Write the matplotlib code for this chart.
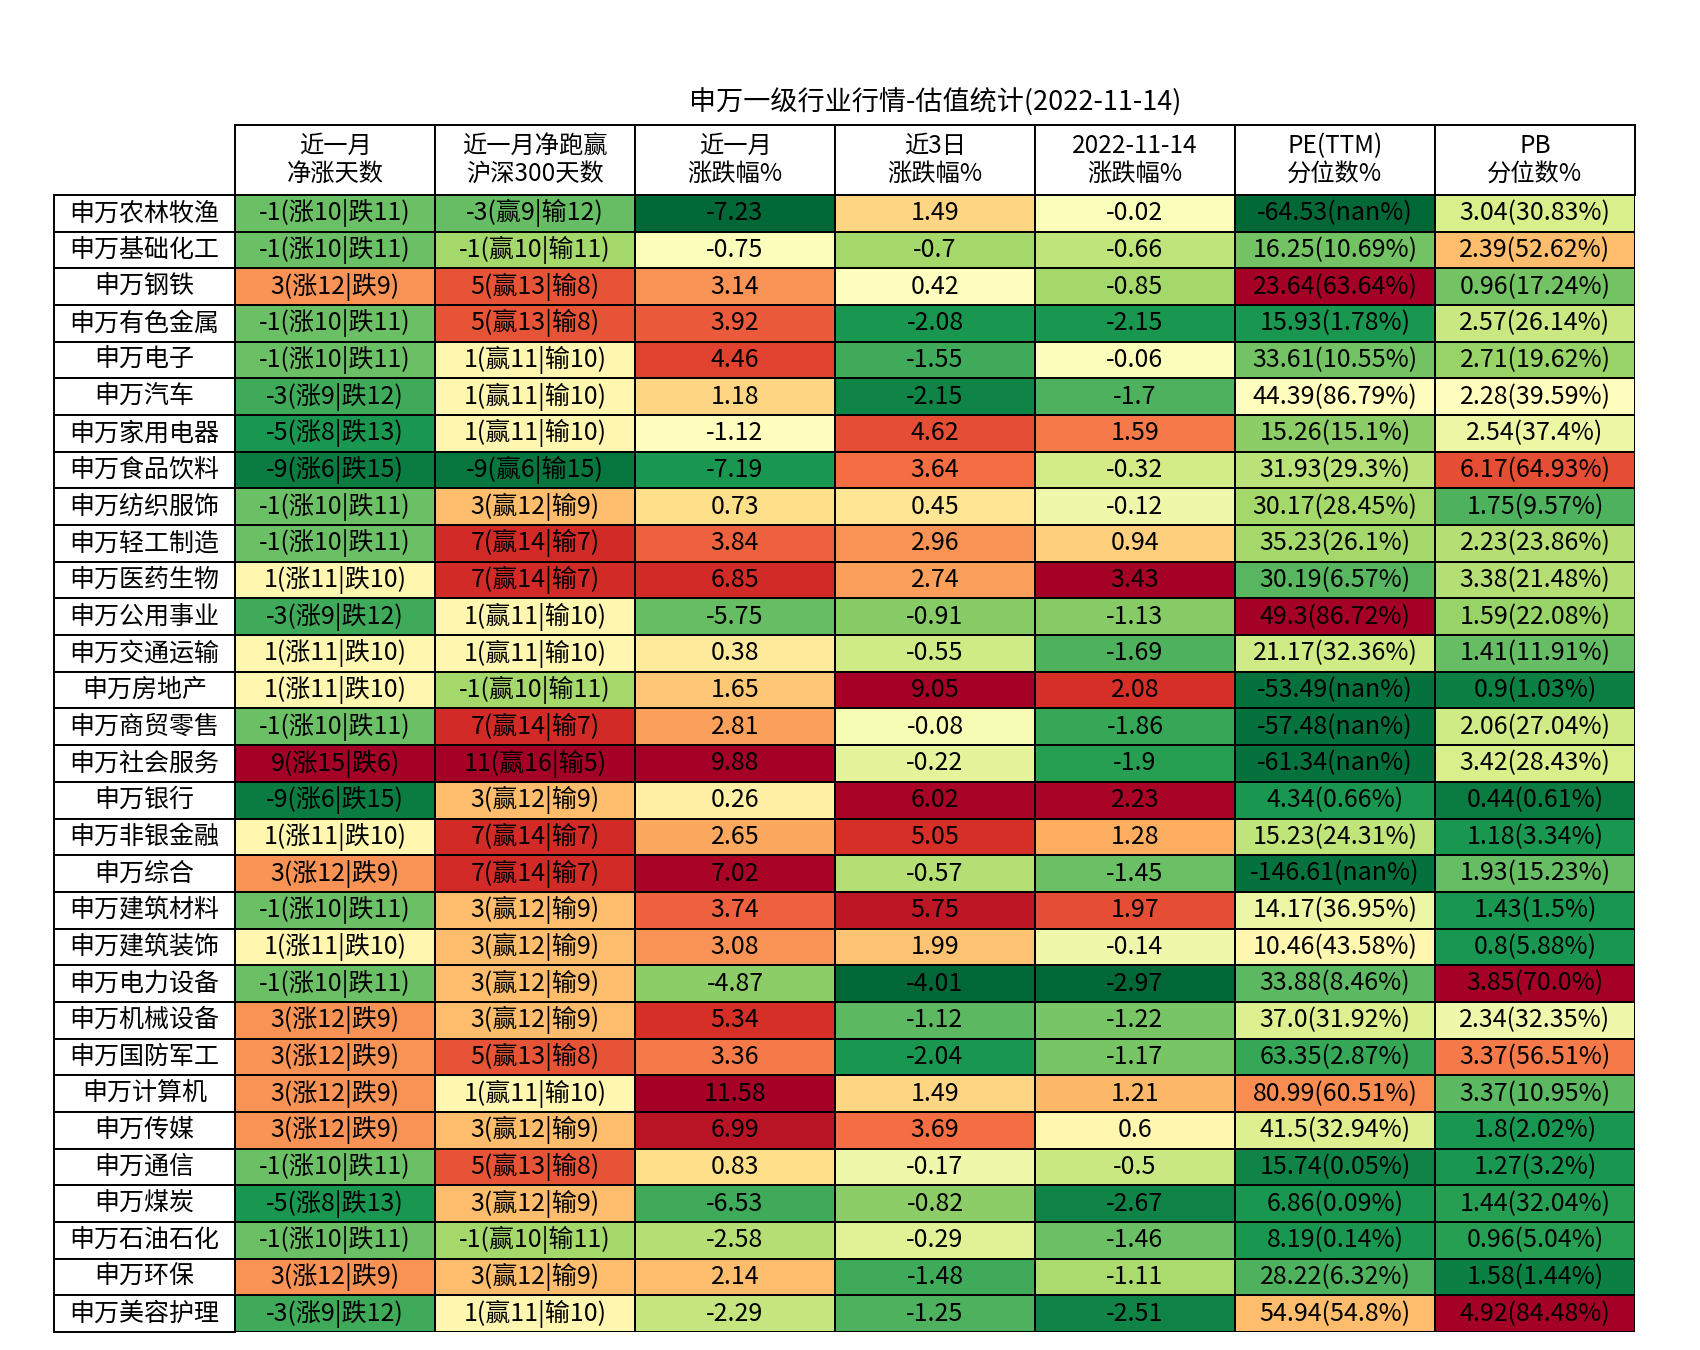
import numpy as np
import matplotlib
matplotlib.use("Agg")
import matplotlib.pyplot as plt
from matplotlib.patches import Rectangle

plt.rcParams['font.family'] = ['Noto Sans CJK SC', 'DejaVu Sans']

title = "申万一级行业行情-估值统计(2022-11-14)"
headers = ["近一月\n净涨天数", "近一月净跑赢\n沪深300天数", "近一月\n涨跌幅%", "近3日\n涨跌幅%",
           "2022-11-14\n涨跌幅%", "PE(TTM)\n分位数%", "PB\n分位数%"]

industries = ["申万农林牧渔", "申万基础化工", "申万钢铁", "申万有色金属", "申万电子", "申万汽车",
              "申万家用电器", "申万食品饮料", "申万纺织服饰", "申万轻工制造", "申万医药生物",
              "申万公用事业", "申万交通运输", "申万房地产", "申万商贸零售", "申万社会服务",
              "申万银行", "申万非银金融", "申万综合", "申万建筑材料", "申万建筑装饰",
              "申万电力设备", "申万机械设备", "申万国防军工", "申万计算机", "申万传媒",
              "申万通信", "申万煤炭", "申万石油石化", "申万环保", "申万美容护理"]

up_days = [10, 10, 12, 10, 10, 9, 8, 6, 10, 10, 11, 9, 11, 11, 10, 15, 6, 11, 12, 10, 11, 10, 12, 12, 12, 12, 10, 8, 10, 12, 9]
down_days = [11, 11, 9, 11, 11, 12, 13, 15, 11, 11, 10, 12, 10, 10, 11, 6, 15, 10, 9, 11, 10, 11, 9, 9, 9, 9, 11, 13, 11, 9, 12]
win_days = [9, 10, 13, 13, 11, 11, 11, 6, 12, 14, 14, 11, 11, 10, 14, 16, 12, 14, 14, 12, 12, 12, 12, 13, 11, 12, 13, 12, 10, 12, 11]
lose_days = [12, 11, 8, 8, 10, 10, 10, 15, 9, 7, 7, 10, 10, 11, 7, 5, 9, 7, 7, 9, 9, 9, 9, 8, 10, 9, 8, 9, 11, 9, 10]

chg_month = [-7.23, -0.75, 3.14, 3.92, 4.46, 1.18, -1.12, -7.19, 0.73, 3.84, 6.85, -5.75, 0.38, 1.65, 2.81, 9.88,
             0.26, 2.65, 7.02, 3.74, 3.08, -4.87, 5.34, 3.36, 11.58, 6.99, 0.83, -6.53, -2.58, 2.14, -2.29]
chg_3d = [1.49, -0.7, 0.42, -2.08, -1.55, -2.15, 4.62, 3.64, 0.45, 2.96, 2.74, -0.91, -0.55, 9.05, -0.08, -0.22,
          6.02, 5.05, -0.57, 5.75, 1.99, -4.01, -1.12, -2.04, 1.49, 3.69, -0.17, -0.82, -0.29, -1.48, -1.25]
chg_day = [-0.02, -0.66, -0.85, -2.15, -0.06, -1.7, 1.59, -0.32, -0.12, 0.94, 3.43, -1.13, -1.69, 2.08, -1.86, -1.9,
           2.23, 1.28, -1.45, 1.97, -0.14, -2.97, -1.22, -1.17, 1.21, 0.6, -0.5, -2.67, -1.46, -1.11, -2.51]
nan = float('nan')
pe_ttm = [-64.53, 16.25, 23.64, 15.93, 33.61, 44.39, 15.26, 31.93, 30.17, 35.23, 30.19, 49.3, 21.17, -53.49, -57.48, -61.34,
          4.34, 15.23, -146.61, 14.17, 10.46, 33.88, 37.0, 63.35, 80.99, 41.5, 15.74, 6.86, 8.19, 28.22, 54.94]
pe_pct = [nan, 10.69, 63.64, 1.78, 10.55, 86.79, 15.1, 29.3, 28.45, 26.1, 6.57, 86.72, 32.36, nan, nan, nan,
          0.66, 24.31, nan, 36.95, 43.58, 8.46, 31.92, 2.87, 60.51, 32.94, 0.05, 0.09, 0.14, 6.32, 54.8]
pb = [3.04, 2.39, 0.96, 2.57, 2.71, 2.28, 2.54, 6.17, 1.75, 2.23, 3.38, 1.59, 1.41, 0.9, 2.06, 3.42,
      0.44, 1.18, 1.93, 1.43, 0.8, 3.85, 2.34, 3.37, 3.37, 1.8, 1.27, 1.44, 0.96, 1.58, 4.92]
pb_pct = [30.83, 52.62, 17.24, 26.14, 19.62, 39.59, 37.4, 64.93, 9.57, 23.86, 21.48, 22.08, 11.91, 1.03, 27.04, 28.43,
          0.61, 3.34, 15.23, 1.5, 5.88, 70.0, 32.35, 56.51, 10.95, 2.02, 3.2, 32.04, 5.04, 1.44, 84.48]

# colour level of every cell (0 = deepest green, 1 = deepest red)
heat_updown = [0.21, 0.21, 0.74, 0.21, 0.21, 0.15, 0.1, 0.04, 0.21, 0.21, 0.53, 0.15, 0.53, 0.53, 0.21, 1.0,
               0.04, 0.53, 0.74, 0.21, 0.53, 0.21, 0.74, 0.74, 0.74, 0.74, 0.21, 0.1, 0.21, 0.74, 0.15]
heat_winlose = [0.2, 0.3, 0.84, 0.84, 0.53, 0.53, 0.53, 0.03, 0.67, 0.91, 0.91, 0.53, 0.53, 0.3, 0.91, 1.0,
                0.67, 0.91, 0.91, 0.67, 0.67, 0.67, 0.67, 0.84, 0.53, 0.67, 0.84, 0.67, 0.3, 0.67, 0.53]
heat_month = [0.0, 0.49, 0.74, 0.83, 0.87, 0.62, 0.5, 0.1, 0.6, 0.82, 0.91, 0.2, 0.57, 0.65, 0.72, 1.0,
              0.55, 0.71, 0.99, 0.82, 0.74, 0.26, 0.9, 0.78, 1.0, 0.96, 0.6, 0.15, 0.33, 0.67, 0.36]
heat_3d = [0.62, 0.3, 0.5, 0.1, 0.15, 0.06, 0.85, 0.8, 0.58, 0.74, 0.72, 0.25, 0.38, 1.0, 0.48, 0.43,
           0.99, 0.9, 0.33, 0.95, 0.66, 0.0, 0.19, 0.1, 0.62, 0.8, 0.46, 0.26, 0.42, 0.15, 0.17]
heat_day = [0.49, 0.35, 0.3, 0.1, 0.49, 0.17, 0.78, 0.39, 0.46, 0.63, 1.0, 0.25, 0.17, 0.9, 0.14, 0.12,
            0.99, 0.7, 0.21, 0.85, 0.46, 0.0, 0.23, 0.23, 0.68, 0.53, 0.37, 0.06, 0.21, 0.31, 0.06]
heat_pe = [0.0, 0.22, 1.0, 0.1, 0.22, 0.5, 0.26, 0.34, 0.3, 0.3, 0.18, 1.0, 0.38, 0.02, 0.02, 0.02,
           0.1, 0.35, 0.02, 0.45, 0.53, 0.19, 0.41, 0.14, 0.75, 0.41, 0.06, 0.1, 0.1, 0.17, 0.67]
heat_pb = [0.4, 0.67, 0.22, 0.37, 0.28, 0.5, 0.45, 0.85, 0.17, 0.33, 0.33, 0.28, 0.2, 0.05, 0.38, 0.4,
           0.04, 0.1, 0.2, 0.1, 0.1, 1.0, 0.46, 0.78, 0.19, 0.1, 0.1, 0.12, 0.12, 0.05, 1.0]

heat = np.column_stack([heat_updown, heat_winlose, heat_month, heat_3d, heat_day, heat_pe, heat_pb])

# cell texts
cells = []
for i in range(len(industries)):
    row = [
        f"{up_days[i] - down_days[i]}(涨{up_days[i]}|跌{down_days[i]})",
        f"{win_days[i] - lose_days[i]}(赢{win_days[i]}|输{lose_days[i]})",
        f"{chg_month[i]}",
        f"{chg_3d[i]}",
        f"{chg_day[i]}",
        f"{pe_ttm[i]}({pe_pct[i]}%)",
        f"{pb[i]}({pb_pct[i]}%)",
    ]
    cells.append(row)

nrows, ncols = heat.shape

fig = plt.figure(figsize=(17, 13.5), dpi=100)
# axes covers only the coloured cells; header and labels sit outside it
ax = fig.add_axes([235 / 1700, 18 / 1350, 1400 / 1700, 1137 / 1350])
ax.pcolormesh(heat, cmap='RdYlGn_r', vmin=0, vmax=1, edgecolors='black', linewidth=1.4)
ax.set_xlim(0, ncols)
ax.set_ylim(nrows, 0)
ax.axis('off')

row_h_px = 1137 / nrows
lab_w = 181 / 200
hdr_h = 70 / row_h_px

for j in range(ncols):
    ax.add_patch(Rectangle((j, -hdr_h), 1, hdr_h, facecolor='white', edgecolor='black',
                           linewidth=1.4, clip_on=False))
    ax.text(j + 0.5, -hdr_h / 2, headers[j], ha='center', va='center', fontsize=17.5,
            linespacing=1.1, clip_on=False)

for i in range(nrows):
    ax.add_patch(Rectangle((-lab_w, i), lab_w, 1, facecolor='white', edgecolor='black',
                           linewidth=1.4, clip_on=False))
    ax.text(-lab_w / 2, i + 0.5, industries[i], ha='center', va='center', fontsize=18, clip_on=False)
    for j in range(ncols):
        ax.text(j + 0.5, i + 0.5, cells[i][j], ha='center', va='center', fontsize=18, color='black')

fig.text(935 / 1700, 1 - 103 / 1350, title, ha='center', va='center', fontsize=19.5)

fig.savefig("out.png", dpi=100, facecolor='white')
